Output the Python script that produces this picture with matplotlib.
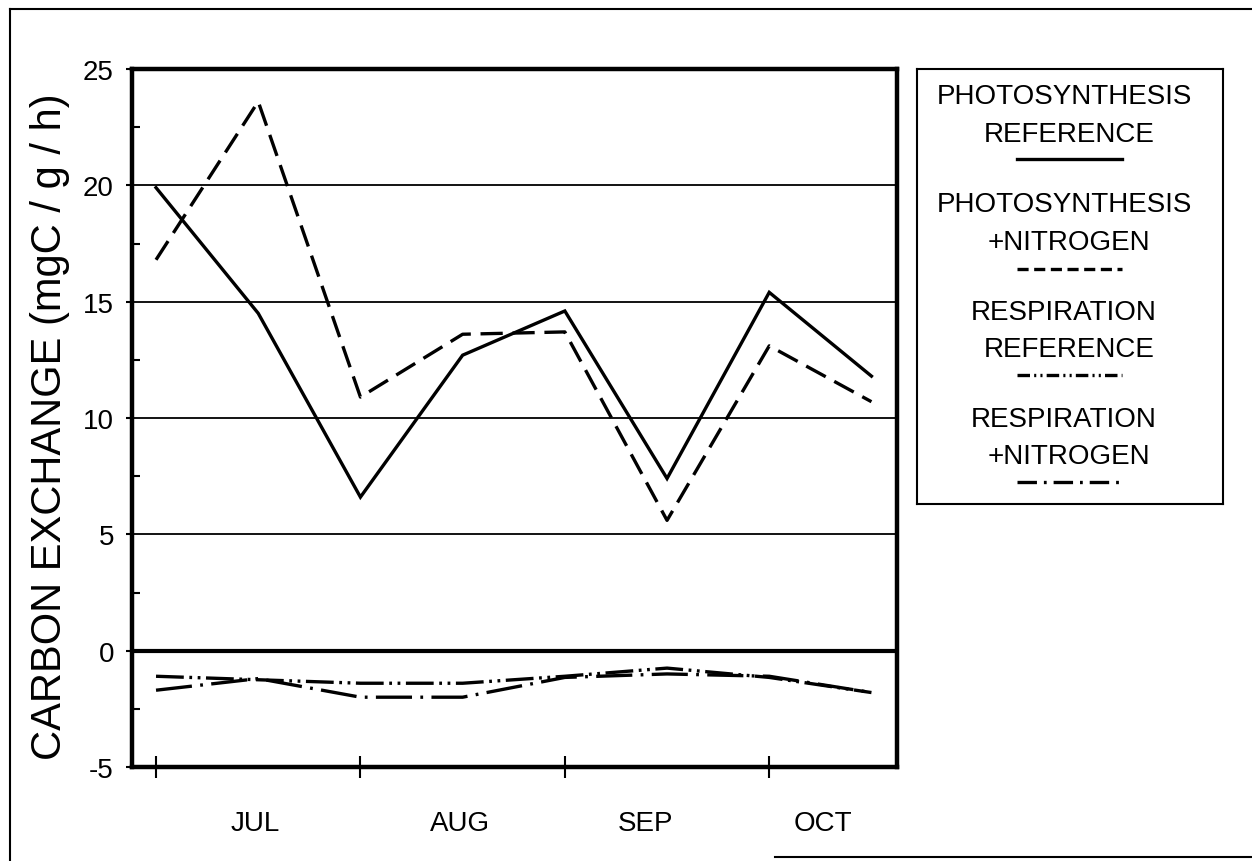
import matplotlib
matplotlib.use("Agg")
import matplotlib.pyplot as plt
from matplotlib.lines import Line2D

plt.rcParams['font.family'] = ['Liberation Sans', 'DejaVu Sans']
plt.rcParams['axes.unicode_minus'] = False
plt.rcParams['lines.scale_dashes'] = False

# ---------------- data ----------------
half_months = [0, 1, 2, 3, 4, 5, 6, 7]
photo_ref = [19.9, 14.5, 6.6, 12.7, 14.6, 7.4, 15.4, 11.8]
photo_n = [16.8, 23.6, 10.9, 13.6, 13.7, 5.6, 13.1, 10.7]
resp_ref = [-1.1, -1.25, -1.4, -1.4, -1.1, -0.75, -1.15, -1.8]
resp_n = [-1.7, -1.2, -2.0, -2.0, -1.15, -1.0, -1.1, -1.8]

month_ticks = [0, 2, 4, 6]
month_labels = ['JUL', 'AUG', 'SEP', 'OCT']
month_label_pos = [0.97, 2.97, 4.79, 6.53]
y_ticks = [-5, 0, 5, 10, 15, 20, 25]
y_labels = ['-5', '0', '5', '10', '15', '20', '25']
y_minor = [-2.5, 2.5, 7.5, 12.5, 17.5, 22.5]
grid_levels = [5, 10, 15, 20]
y_label = 'CARBON EXCHANGE (mgC / g / h)'
legend_labels = ['PHOTOSYNTHESIS\nREFERENCE', 'PHOTOSYNTHESIS\n+NITROGEN',
                 'RESPIRATION\nREFERENCE', 'RESPIRATION\n+NITROGEN']

# ---------------- styles ----------------
styles = [
    dict(ls='-'),
    dict(dashes=(16, 7)),
    dict(dashes=(20, 4, 2, 4, 2, 4)),
    dict(dashes=(26, 6, 2, 6)),
]
legend_styles = [
    dict(ls='-'),
    dict(dashes=(8, 4)),
    dict(dashes=(9, 3, 1.5, 3, 1.5, 3)),
    dict(dashes=(14, 5, 2, 5)),
]
series = [photo_ref, photo_n, resp_ref, resp_n]

W, H = 1252, 862
fig = plt.figure(figsize=(W / 100, H / 100), dpi=100)
fig.patch.set_facecolor('white')

ax = fig.add_axes([132 / W, 1 - 768 / H, (897 - 132) / W, (768 - 70) / H])
for s, st in zip(series, styles):
    ax.plot(half_months, s, color='black', lw=2.4, solid_joinstyle='miter',
            dash_capstyle='butt', **st)

for g in grid_levels:
    ax.axhline(g, color='black', lw=1.3, zorder=0.5)
ax.axhline(0, color='black', lw=3.0, zorder=0.5)

ax.set_xlim(-0.235, 7.25)
ax.set_ylim(-5, 25)
ax.set_yticks(y_ticks)
ax.set_yticklabels(y_labels)
ax.set_yticks(y_minor, minor=True)
ax.tick_params(axis='y', which='major', direction='out', length=4, width=1.5,
               labelsize=20, pad=9)
ax.tick_params(axis='y', which='minor', direction='in', length=6, width=1.5)

ax.set_xticks(month_ticks)
ax.set_xticklabels([''] * len(month_ticks))
ax.set_xticks(month_label_pos, minor=True)
ax.set_xticklabels(month_labels, minor=True)
ax.tick_params(axis='x', which='major', direction='inout', length=16, width=1.5)
ax.tick_params(axis='x', which='minor', length=0, labelsize=20, pad=31)

for sp in ax.spines.values():
    sp.set_linewidth(3.2)

fig.text(50 / W, 1 - 427 / H, y_label, rotation=90, ha='center', va='center',
         fontsize=30)

# ---------------- legend box ----------------
lx0, lx1, ly0, ly1 = 917, 1223, 70, 505
lax = fig.add_axes([lx0 / W, 1 - ly1 / H, (lx1 - lx0) / W, (ly1 - ly0) / H])
lax.set_xlim(lx0, lx1)
lax.set_ylim(ly1, ly0)
lax.set_xticks([])
lax.set_yticks([])
for sp in lax.spines.values():
    sp.set_linewidth(1.5)
line1_y = [97, 205, 313, 420]
line2_y = [135, 243, 350, 457]
sample_y = [160, 270, 376, 483]
for lab, st, y1, y2, ys in zip(legend_labels, legend_styles, line1_y, line2_y, sample_y):
    a, b = lab.split('\n')
    lax.text(1064, y1, a, ha='center', va='center', fontsize=20)
    lax.text(1069, y2, b, ha='center', va='center', fontsize=20)
    lax.plot([1017, 1122], [ys, ys], color='black', lw=2.4, dash_capstyle='butt', **st)

# ---------------- outer frame (scan edges) ----------------
fig.add_artist(Line2D([10 / W, 10 / W], [0, 1 - 10 / H], color='black', lw=1.5,
                      transform=fig.transFigure))
fig.add_artist(Line2D([10 / W, 1], [1 - 10 / H, 1 - 10 / H], color='black', lw=1.5,
                      transform=fig.transFigure))
fig.add_artist(Line2D([775 / W, 1], [1 - 858 / H, 1 - 858 / H], color='black', lw=1.5,
                      transform=fig.transFigure))

fig.savefig('out.png', dpi=100, facecolor='white')
